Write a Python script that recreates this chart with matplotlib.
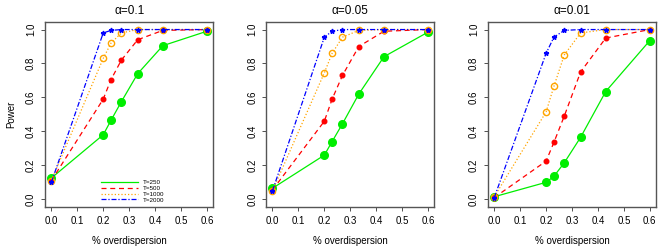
import matplotlib
matplotlib.use("Agg")
import matplotlib.pyplot as plt

overdisp = [0.0, 0.2, 0.23, 0.27, 0.333, 0.43, 0.6]
alphas = ["0.1", "0.05", "0.01"]

# power by alpha panel, for each sample size T
t250 = [[0.125, 0.38, 0.465, 0.575, 0.74, 0.905, 0.99],
        [0.065, 0.26, 0.34, 0.445, 0.62, 0.84, 0.985],
        [0.015, 0.10, 0.135, 0.215, 0.365, 0.635, 0.935]]
t500 = [[0.11, 0.59, 0.705, 0.82, 0.94, 0.995, 1.0],
        [0.055, 0.46, 0.59, 0.73, 0.90, 0.99, 1.0],
        [0.01, 0.225, 0.335, 0.49, 0.75, 0.95, 1.0]]
t1000 = [[0.11, 0.83, 0.92, 0.98, 1.0, 1.0, 1.0],
         [0.05, 0.745, 0.86, 0.955, 0.995, 1.0, 1.0],
         [0.015, 0.515, 0.665, 0.85, 0.98, 1.0, 1.0]]
t2000 = [[0.10, 0.98, 0.995, 1.0, 1.0, 1.0, 1.0],
         [0.05, 0.955, 0.99, 1.0, 1.0, 1.0, 1.0],
         [0.01, 0.86, 0.955, 0.995, 1.0, 1.0, 1.0]]

series = [
    ("T=250", t250, dict(color="#00EE00", ls="-", marker="o", ms=5.5, mfc="#00EE00", mec="#00EE00")),
    ("T=500", t500, dict(color="#FF0000", ls=(0, (4, 3)), marker="o", ms=3.3, mfc="#FF0000", mec="#FF0000")),
    ("T=1000", t1000, dict(color="#FFA500", ls=":", marker="o", ms=4.5, mfc="none", mec="#FFA500", mew=1.0)),
    ("T=2000", t2000, dict(color="#0000FF", ls=(0, (4, 1.5, 1, 1.5)), marker="*", ms=3.5, mfc="#0000FF", mec="#0000FF")),
]

plt.rcParams["font.family"] = "Liberation Sans"
fig = plt.figure(figsize=(6.64, 2.49), dpi=100)
lefts = [0.068, 0.401, 0.735]

for i, a in enumerate(alphas):
    ax = fig.add_axes([lefts[i], 0.169, 0.253, 0.743])
    for name, vals, style in series:
        ax.plot(overdisp, vals[i], lw=0.9, label=name, **style)
    ax.set_xlim(-0.024, 0.624)
    ax.set_ylim(-0.045, 1.045)
    ax.set_xticks([0.0, 0.1, 0.2, 0.3, 0.4, 0.5, 0.6])
    ax.set_yticks([0.0, 0.2, 0.4, 0.6, 0.8, 1.0])
    ax.set_xticklabels(["0.0", "0.1", "0.2", "0.3", "0.4", "0.5", "0.6"])
    ax.set_yticklabels(["0.0", "0.2", "0.4", "0.6", "0.8", "1.0"], rotation=90, va="center")
    ax.tick_params(labelsize=7, length=3, width=0.6, direction="out", color="#333333")
    for s in ax.spines.values():
        s.set_linewidth(1.0)
        s.set_color("#555555")
    ax.set_title("\u03b1=" + a, fontsize=8.5, pad=6)
    ax.set_xlabel("% overdispersion", fontsize=7, labelpad=7)
    if i == 0:
        ax.set_ylabel("Power", fontsize=7, labelpad=7)
        leg = ax.legend(loc="lower center", bbox_to_anchor=(0.52, 0.0), frameon=False,
                        fontsize=4.5, handlelength=6, labelspacing=0.05,
                        borderaxespad=0.3)
        for h in leg.legend_handles:
            h.set_marker("")

fig.savefig("out.png", dpi=100)
